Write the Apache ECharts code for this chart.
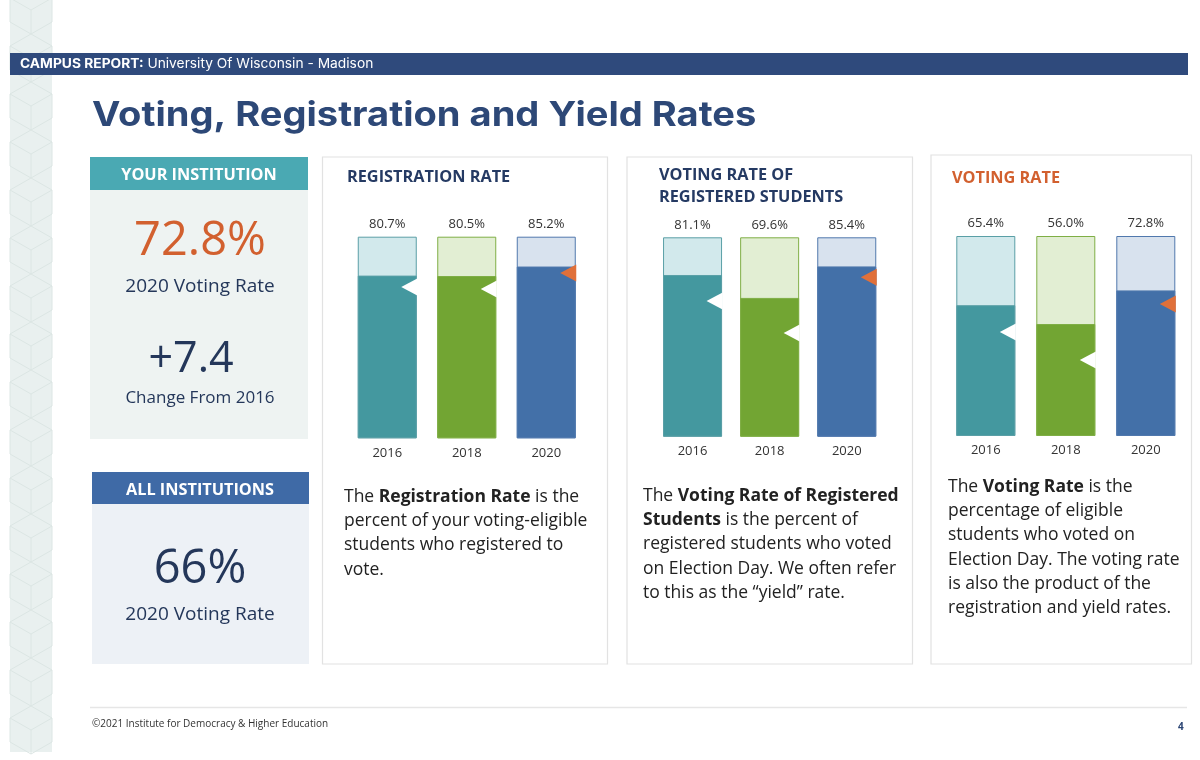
<!DOCTYPE html>
<html>
<head>
<meta charset="utf-8">
<script src="https://cdn.jsdelivr.net/npm/echarts@6/dist/echarts.min.js"></script>
<style>
html,body{margin:0;padding:0;background:#fff;}
#chart{width:1200px;height:760px;}
</style>
</head>
<body>
<div id="chart"></div>
<script>
// ---------- DATA ----------
const years = ['2016', '2018', '2020'];
const registrationRate = [80.7, 80.5, 85.2];
const registrationAll = [75, 74, 82];
const yieldRate = [81.1, 69.6, 85.4];
const yieldAll = [68, 52, 80];
const votingRate = [65.4, 56.0, 72.8];
const votingAll = [52, 38, 66];
const institutionVoting2020 = '72.8%';
const changeFrom2016 = '+7.4';
const allInstitutionsVoting2020 = '66%';

// ---------- STYLE ----------
const fillColors = ['#44989f', '#72a533', '#4370a8'];
const lightColors = ['#d2e9ec', '#e2eed3', '#d8e2ee'];
const borderColors = ['#5a9fa6', '#7fae45', '#5078ad'];
const markerColors = ['#ffffff', '#ffffff', '#e0703a'];
const navy = '#2b4574';
const textDark = '#222';
const orange = '#d2602f';
const bodyFont = '"Open Sans", "Noto Sans", sans-serif';
const headFont = 'Inter, "Open Sans", sans-serif';

const panels = [
  {values: registrationRate, bench: registrationAll, left: 347.5, width: 238.5, top: 236.7, bottom: 438.3},
  {values: yieldRate, bench: yieldAll, left: 654, width: 231.3, top: 237.3, bottom: 436.7},
  {values: votingRate, bench: votingAll, left: 945.8, width: 240, top: 236, bottom: 436}
];

const grid = [], xAxis = [], yAxis = [], series = [];
panels.forEach((p, i) => {
  grid.push({left: p.left, width: p.width, top: p.top, height: p.bottom - p.top});
  xAxis.push({
    type: 'category', gridIndex: i, data: years,
    axisLine: {show: false}, axisTick: {show: false},
    axisLabel: {fontSize: 13, color: '#333', margin: 8, fontFamily: bodyFont}
  });
  yAxis.push({type: 'value', gridIndex: i, min: 0, max: 100, show: false});
  series.push({
    type: 'bar', xAxisIndex: i, yAxisIndex: i, barWidth: 59, barGap: '-100%', silent: true,
    data: years.map((y, j) => ({value: 100, itemStyle: {color: lightColors[j], borderColor: borderColors[j], borderWidth: 1}})),
    label: {show: true, position: 'top', distance: 6, fontSize: 13, color: '#333', fontFamily: bodyFont,
      formatter: (q) => p.values[q.dataIndex].toFixed(1) + '%'},
    z: 2
  });
  series.push({
    type: 'bar', xAxisIndex: i, yAxisIndex: i, barWidth: 59, barGap: '-100%', silent: true,
    data: p.values.map((v, j) => ({value: v, itemStyle: {color: fillColors[j], borderColor: borderColors[j], borderWidth: 1}})),
    z: 3
  });
  series.push({
    type: 'scatter', xAxisIndex: i, yAxisIndex: i, silent: true,
    symbol: 'triangle', symbolRotate: 90, symbolSize: [17, 16], symbolOffset: [22, 0],
    data: p.bench.map((v, j) => ({value: [years[j], v], itemStyle: {color: markerColors[j], opacity: 1}})),
    z: 5
  });
});

// ---------- DECORATION / TEXT ----------
const graphic = [];
// left hex strip
graphic.push({type: 'rect', shape: {x: 10, y: 0, width: 42, height: 752}, style: {fill: '#e9f0ef'}, z: -20, silent: true});
for (let k = 0; k < 16; k++) {
  const cy = 10 + k * 48;
  const pts = [[31, cy - 24], [52, cy - 12], [52, cy + 12], [31, cy + 24], [10, cy + 12], [10, cy - 12], [31, cy - 24]];
  graphic.push({type: 'polyline', shape: {points: pts}, style: {stroke: '#dce6e4', lineWidth: 1, fill: null}, z: -19, silent: true});
  graphic.push({type: 'line', shape: {x1: 31, y1: cy, x2: 31, y2: cy + 24}, style: {stroke: '#dce6e4', lineWidth: 1}, z: -19, silent: true});
  graphic.push({type: 'line', shape: {x1: 31, y1: cy, x2: 10, y2: cy - 12}, style: {stroke: '#dce6e4', lineWidth: 1}, z: -19, silent: true});
  graphic.push({type: 'line', shape: {x1: 31, y1: cy, x2: 52, y2: cy - 12}, style: {stroke: '#dce6e4', lineWidth: 1}, z: -19, silent: true});
}
// header bar
graphic.push({type: 'rect', shape: {x: 10, y: 53, width: 1178, height: 22}, style: {fill: '#2f4a7c'}, z: -10, silent: true});
graphic.push({type: 'text', x: 20, y: 64, scaleX: 1.06, style: {
  text: '{b|CAMPUS REPORT:}{n| University Of Wisconsin - Madison}', verticalAlign: 'middle',
  rich: {b: {fontFamily: headFont, fontWeight: 'bold', fontSize: 13, fill: '#fff'}, n: {fontFamily: headFont, fontSize: 13, fill: '#fff'}}
}, z: 10, silent: true});
// title
graphic.push({type: 'text', x: 92, y: 116, scaleX: 1.12, style: {
  text: 'Voting, Registration and Yield Rates', fontFamily: headFont, fontWeight: 'bold', fontSize: 34, fill: '#2d4877', verticalAlign: 'middle'
}, z: 10, silent: true});

// Your institution box
graphic.push({type: 'rect', shape: {x: 90, y: 157, width: 218, height: 33}, style: {fill: '#4aa9b3'}, z: -10, silent: true});
graphic.push({type: 'rect', shape: {x: 90, y: 190, width: 218, height: 249}, style: {fill: '#eef3f2'}, z: -10, silent: true});
graphic.push({type: 'text', x: 199, y: 175, style: {text: 'YOUR INSTITUTION', fontFamily: bodyFont, fontWeight: 'bold', fontSize: 16.3, fill: '#fff', align: 'center', verticalAlign: 'middle'}, z: 10, silent: true});
graphic.push({type: 'text', x: 200, y: 242, style: {text: institutionVoting2020, fontFamily: bodyFont, fontSize: 47, fill: orange, align: 'center', verticalAlign: 'middle'}, z: 10, silent: true});
graphic.push({type: 'text', x: 200, y: 287, style: {text: '2020 Voting Rate', fontFamily: bodyFont, fontSize: 19, fill: '#24375a', align: 'center', verticalAlign: 'middle'}, z: 10, silent: true});
graphic.push({type: 'text', x: 191, y: 360, style: {text: changeFrom2016, fontFamily: bodyFont, fontSize: 43, fill: '#24375a', align: 'center', verticalAlign: 'middle'}, z: 10, silent: true});
graphic.push({type: 'text', x: 200, y: 398, style: {text: 'Change From 2016', fontFamily: bodyFont, fontSize: 17, fill: '#24375a', align: 'center', verticalAlign: 'middle'}, z: 10, silent: true});

// All institutions box
graphic.push({type: 'rect', shape: {x: 92, y: 472, width: 217, height: 32}, style: {fill: '#3f6aa6'}, z: -10, silent: true});
graphic.push({type: 'rect', shape: {x: 92, y: 504, width: 217, height: 160}, style: {fill: '#edf1f6'}, z: -10, silent: true});
graphic.push({type: 'text', x: 200, y: 490, style: {text: 'ALL INSTITUTIONS', fontFamily: bodyFont, fontWeight: 'bold', fontSize: 16.3, fill: '#fff', align: 'center', verticalAlign: 'middle'}, z: 10, silent: true});
graphic.push({type: 'text', x: 200, y: 570, style: {text: allInstitutionsVoting2020, fontFamily: bodyFont, fontSize: 47, fill: '#24375a', align: 'center', verticalAlign: 'middle'}, z: 10, silent: true});
graphic.push({type: 'text', x: 200, y: 615, style: {text: '2020 Voting Rate', fontFamily: bodyFont, fontSize: 19, fill: '#24375a', align: 'center', verticalAlign: 'middle'}, z: 10, silent: true});

// panels
[[322.5, 157, 285, 507], [627, 157, 285.5, 507], [931, 155, 260.5, 509]].forEach(r => {
  graphic.push({type: 'rect', shape: {x: r[0], y: r[1], width: r[2], height: r[3]}, style: {fill: '#fff', stroke: '#e2e2e2', lineWidth: 1.2}, z: -10, silent: true});
});
graphic.push({type: 'text', x: 347, y: 177, style: {text: 'REGISTRATION RATE', fontFamily: bodyFont, fontWeight: 'bold', fontSize: 16.3, fill: '#253a63', verticalAlign: 'middle'}, z: 10, silent: true});
graphic.push({type: 'text', x: 659, y: 164, style: {text: 'VOTING RATE OF\nREGISTERED STUDENTS', fontFamily: bodyFont, fontWeight: 'bold', fontSize: 16.3, lineHeight: 22, fill: '#253a63', verticalAlign: 'top'}, z: 10, silent: true});
graphic.push({type: 'text', x: 952, y: 178, style: {text: 'VOTING RATE', fontFamily: bodyFont, fontWeight: 'bold', fontSize: 16.3, fill: orange, verticalAlign: 'middle'}, z: 10, silent: true});

const richBody = {
  n: {fontFamily: bodyFont, fontSize: 17.5, fill: textDark, lineHeight: 24.3},
  b: {fontFamily: bodyFont, fontSize: 17.5, fontWeight: 'bold', fill: textDark, lineHeight: 24.3}
};
graphic.push({type: 'text', x: 344, y: 484.5, style: {
  text: '{n|The }{b|Registration Rate}{n| is the}\n{n|percent of your voting-eligible}\n{n|students who registered to}\n{n|vote.}',
  rich: richBody, verticalAlign: 'top'
}, z: 10, silent: true});
graphic.push({type: 'text', x: 643, y: 483.5, style: {
  text: '{n|The }{b|Voting Rate of Registered}\n{b|Students}{n| is the percent of}\n{n|registered students who voted}\n{n|on Election Day. We often refer}\n{n|to this as the \u201cyield\u201d rate.}',
  rich: richBody, verticalAlign: 'top'
}, z: 10, silent: true});
graphic.push({type: 'text', x: 948, y: 474.5, style: {
  text: '{n|The }{b|Voting Rate}{n| is the}\n{n|percentage of eligible}\n{n|students who voted on}\n{n|Election Day. The voting rate}\n{n|is also the product of the}\n{n|registration and yield rates.}',
  rich: richBody, verticalAlign: 'top'
}, z: 10, silent: true});

// footer
graphic.push({type: 'line', shape: {x1: 90, y1: 707.5, x2: 1187, y2: 707.5}, style: {stroke: '#e6e6e6', lineWidth: 1.5}, z: -10, silent: true});
graphic.push({type: 'text', x: 92, y: 724, style: {text: '\u00a92021 Institute for Democracy & Higher Education', fontFamily: bodyFont, fontSize: 10, fill: '#333', verticalAlign: 'middle'}, z: 10, silent: true});
graphic.push({type: 'text', x: 1178, y: 727, style: {text: '4', fontFamily: bodyFont, fontWeight: 'bold', fontSize: 10, fill: navy, verticalAlign: 'middle'}, z: 10, silent: true});

const chart = echarts.init(document.getElementById('chart'));
chart.setOption({
  animation: false,
  backgroundColor: '#ffffff',
  grid, xAxis, yAxis, series, graphic
});
</script>
</body>
</html>
